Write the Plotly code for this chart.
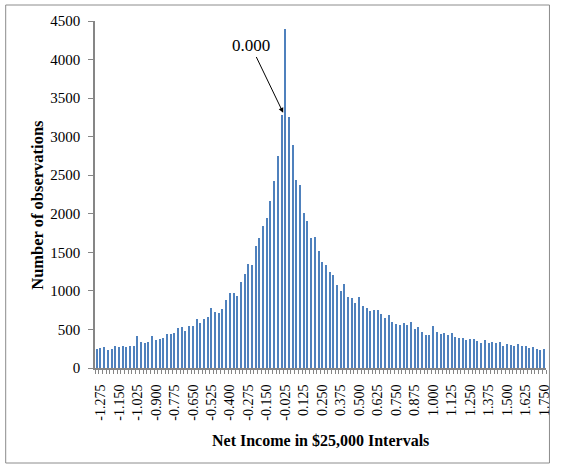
import plotly.graph_objects as go

categories = [
    "-1.300", "-1.275", "-1.250", "-1.225", "-1.200", "-1.175", "-1.150", "-1.125", "-1.100", "-1.075",
    "-1.050", "-1.025", "-1.000", "-0.975", "-0.950", "-0.925", "-0.900", "-0.875", "-0.850", "-0.825",
    "-0.800", "-0.775", "-0.750", "-0.725", "-0.700", "-0.675", "-0.650", "-0.625", "-0.600", "-0.575",
    "-0.550", "-0.525", "-0.500", "-0.475", "-0.450", "-0.425", "-0.400", "-0.375", "-0.350", "-0.325",
    "-0.300", "-0.275", "-0.250", "-0.225", "-0.200", "-0.175", "-0.150", "-0.125", "-0.100", "-0.075",
    "-0.050", "-0.025", "0.000", "0.025", "0.050", "0.075", "0.125", "0.150", "0.175", "0.200",
    "0.225", "0.250", "0.275", "0.300", "0.325", "0.350", "0.375", "0.400", "0.425", "0.450",
    "0.475", "0.500", "0.525", "0.550", "0.575", "0.600", "0.625", "0.650", "0.675", "0.700",
    "0.725", "0.750", "0.775", "0.800", "0.825", "0.850", "0.875", "0.900", "0.925", "0.950",
    "0.975", "1.000", "1.025", "1.050", "1.075", "1.100", "1.125", "1.150", "1.175", "1.200",
    "1.225", "1.250", "1.275", "1.300", "1.325", "1.350", "1.375", "1.400", "1.425", "1.450",
    "1.475", "1.500", "1.525", "1.550", "1.575", "1.600", "1.625", "1.650", "1.675", "1.700",
    "1.725", "1.750",
]

observations = [
    245, 262, 275, 232, 248, 285, 272, 285, 272, 285,
    285, 415, 340, 326, 342, 415, 357, 375, 390, 442,
    440, 455, 515, 528, 485, 541, 541, 641, 582, 641,
    656, 784, 725, 710, 771, 879, 970, 970, 940, 1115,
    1219, 1346, 1338, 1576, 1680, 1836, 1940, 2169, 2425, 2745,
    3278, 4391, 3256, 2888, 2442, 2373, 2013, 1901, 1680, 1693,
    1520, 1377, 1333, 1247, 1206, 1074, 1002, 1091, 916, 903,
    845, 916, 801, 773, 735, 758, 758, 702, 646, 689,
    598, 572, 559, 585, 559, 603, 503, 529, 468, 429,
    429, 542, 473, 442, 455, 429, 455, 403, 390, 386,
    360, 373, 373, 356, 326, 360, 326, 343, 326, 343,
    286, 312, 299, 286, 312, 286, 286, 260, 273, 247,
    230, 247,
]

tick_labels = [
    "-1.275", "-1.150", "-1.025", "-0.900", "-0.775", "-0.650", "-0.525", "-0.400", "-0.275",
    "-0.150", "-0.025", "0.125", "0.250", "0.375", "0.500", "0.625", "0.750", "0.875", "1.000",
    "1.125", "1.250", "1.375", "1.500", "1.625", "1.750",
]

y_ticks = [0, 500, 1000, 1500, 2000, 2500, 3000, 3500, 4000, 4500]

positions = list(range(len(categories)))
tick_positions = [categories.index(t) for t in tick_labels]

SERIF = "Liberation Serif, Times New Roman, serif"
GRAY = "#868686"

fig = go.Figure()
fig.add_trace(go.Bar(
    x=positions,
    y=observations,
    width=0.34,
    marker=dict(color="#4F81BD", line=dict(width=0)),
    customdata=categories,
    hovertemplate="%{customdata}: %{y}<extra></extra>",
))

fig.update_layout(
    width=562,
    height=466,
    margin=dict(l=95, r=10, t=21, b=98),
    paper_bgcolor="white",
    plot_bgcolor="white",
    showlegend=False,
    bargap=0,
    font=dict(family=SERIF, color="black"),
    xaxis=dict(
        range=[-0.5, len(categories) - 0.5],
        tickmode="array",
        tickvals=tick_positions,
        ticktext=tick_labels,
        tickangle=-90,
        ticks="",
        ticklabelstandoff=9,
        tickfont=dict(family=SERIF, size=14, color="black"),
        showline=True,
        linecolor=GRAY,
        linewidth=2,
        showgrid=False,
        zeroline=False,
        minor=dict(tickmode="linear", tick0=0.5, dtick=1, ticks="outside",
                   ticklen=4, tickcolor=GRAY, tickwidth=1, showgrid=False),
    ),
    yaxis=dict(
        range=[0, 4500],
        tickmode="array",
        tickvals=y_ticks,
        ticks="outside",
        ticklen=5,
        tickcolor=GRAY,
        tickwidth=1,
        ticklabelstandoff=5,
        tickfont=dict(family=SERIF, size=15, color="black"),
        showline=True,
        linecolor=GRAY,
        linewidth=1.5,
        showgrid=False,
        zeroline=False,
    ),
    annotations=[
        dict(text="<b>Number of observations</b>", xref="paper", yref="paper",
             x=(36 - 95) / 457, y=(368 - 205) / 347, xanchor="center", yanchor="middle",
             textangle=-90, showarrow=False,
             font=dict(family=SERIF, size=16.5, color="black")),
        dict(text="<b>Net Income in $25,000 Intervals</b>", xref="paper", yref="paper",
             x=(324 - 95) / 457, y=(368 - 440) / 347, xanchor="center", yanchor="middle",
             showarrow=False,
             font=dict(family=SERIF, size=16, color="black")),
        dict(text="0.000", xref="x", yref="y", x=50.4, y=3310,
             axref="x", ayref="y", ax=41.7, ay=4176,
             xanchor="center", yanchor="middle",
             showarrow=True, arrowhead=2, arrowsize=1, arrowwidth=1, arrowcolor="black",
             font=dict(family=SERIF, size=17, color="black")),
        dict(text="<b>Q</b>", xref="paper", yref="paper", x=(151 - 95) / 457, y=(368 + 19) / 347,
             xanchor="center", yanchor="middle",
             showarrow=False, font=dict(family=SERIF, size=20, color="black")),
    ],
    shapes=[
        dict(type="rect", xref="paper", yref="paper",
             x0=(4.5 - 95) / 457, x1=(555.5 - 95) / 457,
             y0=(368 - 463) / 347, y1=(368 - 5) / 347,
             line=dict(color="#8c8c8c", width=1), fillcolor="rgba(0,0,0,0)", layer="below"),
    ],
)

fig.write_html("out.html")
